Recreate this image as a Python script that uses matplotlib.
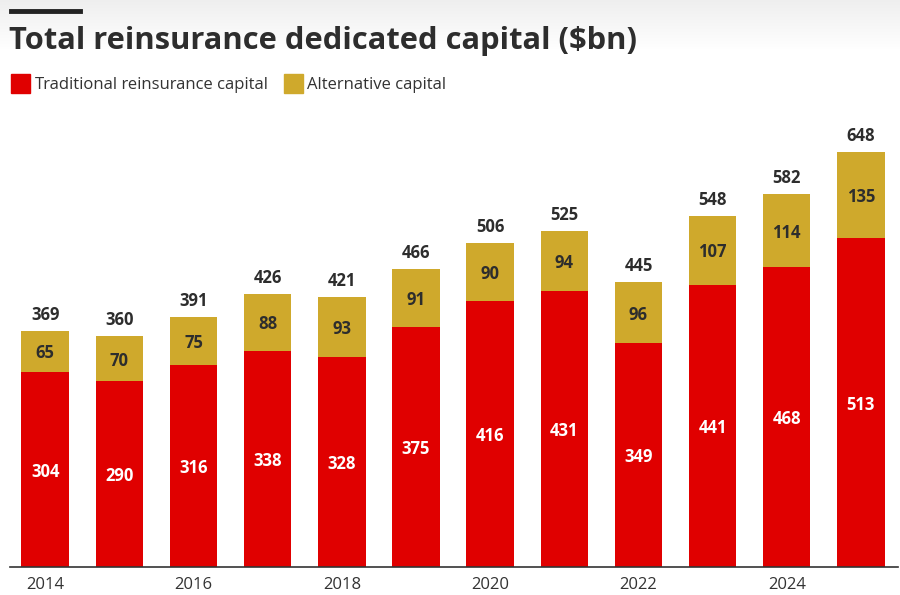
import matplotlib
matplotlib.use("Agg")
import matplotlib.pyplot as plt
import numpy as np
from matplotlib.patches import Rectangle
from matplotlib import font_manager as fm

years = [2014, 2015, 2016, 2017, 2018, 2019, 2020, 2021, 2022, 2023, 2024, 2025]
traditional = [304, 290, 316, 338, 328, 375, 416, 431, 349, 441, 468, 513]
alternative = [65, 70, 75, 88, 93, 91, 90, 94, 96, 107, 114, 135]
tick_years = [2014, 2016, 2018, 2020, 2022, 2024]

RED = "#e00000"
GOLD = "#cfa92c"
DARK = "#2d2d2d"

plt.rcParams['font.family'] = ['Open Sans', 'DejaVu Sans']


def font_file(fname):
    for f in fm.fontManager.ttflist:
        if f.fname.endswith(fname):
            return f.fname
    return None


bold_path = font_file("OpenSans-Bold.ttf")
reg_path = font_file("OpenSans-Regular.ttf")


def fp(bold, size):
    p = bold_path if bold else reg_path
    if p:
        return fm.FontProperties(fname=p, size=size)
    return fm.FontProperties(family=['Open Sans', 'DejaVu Sans'],
                             weight='bold' if bold else 'normal', size=size)


W, H = 900, 595
fig = plt.figure(figsize=(W / 100, H / 100), dpi=100)
fig.patch.set_facecolor("white")

# subtle top gradient
bg = fig.add_axes([0, 0, 1, 1], zorder=-10)
grad = np.ones((H, 1))
grad[:50, 0] = np.linspace(0.935, 1.0, 50)
bg.imshow(np.dstack([grad, grad, grad]), aspect='auto', extent=[0, 1, 0, 1], interpolation='bilinear')
bg.axis('off')

ax_left, ax_right = 10, 898
base_y, top_y = 567, 100
ax = fig.add_axes([ax_left / W, (H - base_y) / H, (ax_right - ax_left) / W, (base_y - top_y) / H])
ax.set_facecolor("none")

x = np.arange(len(years))
totals = [t + a for t, a in zip(traditional, alternative)]
px_per_unit = (567 - 152) / 648.0
ax.set_ylim(0, (base_y - top_y) / px_per_unit)
ax.set_xlim(-0.475, len(years) - 0.5)

bw = 0.64
ax.bar(x, traditional, width=bw, color=RED, zorder=2)
ax.bar(x, alternative, width=bw, bottom=traditional, color=GOLD, zorder=2)

for i in range(len(years)):
    ax.text(x[i], traditional[i] / 2, str(traditional[i]), ha='center', va='center_baseline',
            color='white', fontproperties=fp(True, 12))
    ax.text(x[i], traditional[i] + alternative[i] / 2, str(alternative[i]), ha='center',
            va='center_baseline', color=DARK, fontproperties=fp(True, 12))
    ax.annotate(str(totals[i]), (x[i], totals[i]), xytext=(0, 13), textcoords='offset points',
                ha='center', va='center_baseline', color=DARK, fontproperties=fp(True, 12))

for s in ['top', 'right', 'left']:
    ax.spines[s].set_visible(False)
ax.spines['bottom'].set_color('#333333')
ax.spines['bottom'].set_linewidth(1.2)
ax.set_yticks([])
ax.set_xticks([years.index(y) for y in tick_years])
ax.set_xticklabels([str(y) for y in tick_years], color='#333333')
for lbl in ax.get_xticklabels():
    lbl.set_fontproperties(fp(False, 12))
ax.tick_params(axis='x', length=0, pad=7)

fig.add_artist(plt.Line2D([11 / W, 80 / W], [1 - 11 / H, 1 - 11 / H], color='#222222', lw=3.5))
fig.text(9 / W, 1 - 37 / H, "Total reinsurance dedicated capital ($bn)",
         fontproperties=fp(True, 22.2), color='#2d2d2d', va='center_baseline', ha='left')

fig.add_artist(Rectangle((11 / W, 1 - 93 / H), 19 / W, 19 / H, color=RED, transform=fig.transFigure))
fig.text(35 / W, 1 - 83.5 / H, "Traditional reinsurance capital", fontproperties=fp(False, 12),
         color='#333333', va='center_baseline', ha='left')
fig.add_artist(Rectangle((284 / W, 1 - 93 / H), 19 / W, 19 / H, color=GOLD, transform=fig.transFigure))
fig.text(307 / W, 1 - 83.5 / H, "Alternative capital", fontproperties=fp(False, 12),
         color='#333333', va='center_baseline', ha='left')

fig.savefig("out.png", dpi=100)
